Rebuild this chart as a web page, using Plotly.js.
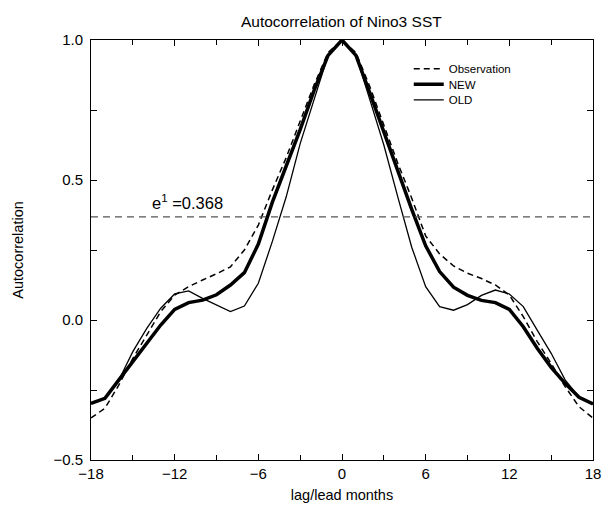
<!DOCTYPE html>
<html>
<head>
<meta charset="utf-8">
<script src="https://cdn.plot.ly/plotly-3.0.1.min.js"></script>
<style>html,body{margin:0;padding:0;background:#fff;}#chart{width:602px;height:510px;}</style>
</head>
<body>
<div id="chart"></div>
<script>
// lag/lead months
const lags = [-18,-17,-16,-15,-14,-13,-12,-11,-10,-9,-8,-7,-6,-5,-4,-3,-2,-1,0,1,2,3,4,5,6,7,8,9,10,11,12,13,14,15,16,17,18];
// Observation
const obs = [-0.35,-0.315,-0.232,-0.137,-0.054,0.03,0.089,0.119,0.143,0.165,0.19,0.25,0.339,0.464,0.58,0.71,0.84,0.955,
  1.0,0.955,0.833,0.696,0.56,0.435,0.30,0.236,0.193,0.167,0.148,0.125,0.089,0.012,-0.077,-0.155,-0.238,-0.31,-0.35];
// NEW model
const newModel = [-0.298,-0.28,-0.214,-0.149,-0.083,-0.018,0.038,0.062,0.071,0.09,0.125,0.169,0.271,0.42,0.55,0.68,0.82,0.945,
  1.0,0.945,0.81,0.67,0.535,0.395,0.265,0.173,0.117,0.088,0.070,0.062,0.038,-0.024,-0.101,-0.169,-0.226,-0.276,-0.30];
// OLD model
const oldModel = [-0.30,-0.28,-0.214,-0.113,-0.03,0.042,0.093,0.104,0.077,0.054,0.03,0.05,0.131,0.28,0.44,0.63,0.79,0.945,
  1.0,0.945,0.786,0.625,0.44,0.26,0.119,0.048,0.035,0.055,0.088,0.107,0.093,0.048,-0.036,-0.119,-0.214,-0.276,-0.30];
const eFold = 0.368;
const xTicks = [-18,-12,-6,0,6,12,18];
const xTickText = ['\u221218','\u221212','\u22126','0','6','12','18'];
const yTicks = [-0.5,0,0.5,1.0];
const yTickText = ['\u22120.5','0.0','0.5','1.0'];

const font = 'Liberation Sans, Arial, Helvetica, sans-serif';

const traces = [
  {x: lags, y: obs, name: 'Observation', mode: 'lines', legend: 'legend', line: {color: '#000', width: 1.5, dash: '6px,4px'}},
  {x: lags, y: newModel, name: 'NEW', mode: 'lines', legend: 'legend2', line: {color: '#000', width: 3.5}},
  {x: lags, y: oldModel, name: 'OLD', mode: 'lines', legend: 'legend3', line: {color: '#000', width: 1.3}}
];

function leg(y) {
  return {x: 0.633, y: y, xanchor: 'left', yanchor: 'top', bgcolor: 'rgba(0,0,0,0)', borderwidth: 0,
    font: {family: font, size: 11.5, color: '#000'}, itemwidth: 30};
}

const layout = {
  width: 602, height: 510,
  margin: {l: 91, r: 9, t: 40, b: 50},
  paper_bgcolor: '#fff', plot_bgcolor: '#fff',
  font: {family: font, size: 14, color: '#000'},
  title: {text: 'Autocorrelation of Nino3 SST', font: {family: font, size: 15.5, color: '#000'}, x: 0.567, xanchor: 'center', y: 0.957, yanchor: 'middle'},
  xaxis: {
    range: [-18, 18], tickvals: xTicks, ticktext: xTickText,
    ticks: 'inside', ticklen: 6, tickwidth: 1, tickcolor: '#000',
    minor: {dtick: 3, tick0: 0, ticks: 'inside', ticklen: 5, tickwidth: 1, tickcolor: '#000'},
    showline: true, linecolor: '#000', linewidth: 1, mirror: 'allticks',
    showgrid: false, zeroline: false,
    tickfont: {family: font, size: 15, color: '#000'},
    title: {text: 'lag/lead months', font: {family: font, size: 14.5, color: '#000'}, standoff: 8}
  },
  yaxis: {
    range: [-0.5, 1.0], tickvals: yTicks, ticktext: yTickText,
    ticks: 'inside', ticklen: 6, tickwidth: 1, tickcolor: '#000',
    minor: {dtick: 0.25, tick0: 0, ticks: 'inside', ticklen: 6, tickwidth: 1, tickcolor: '#000'},
    showline: true, linecolor: '#000', linewidth: 1, mirror: 'allticks',
    showgrid: false, zeroline: false,
    tickfont: {family: font, size: 15, color: '#000'},
    ticklabelstandoff: 4,
    title: {text: 'Autocorrelation', font: {family: font, size: 14.5, color: '#000'}, standoff: 26}
  },
  showlegend: true,
  legend: leg(0.966),
  legend2: leg(0.929),
  legend3: leg(0.892),
  shapes: [
    {type: 'line', xref: 'paper', x0: 0, x1: 1, yref: 'y', y0: eFold, y1: eFold,
     line: {color: '#555', width: 1.2, dash: '7px,5px'}}
  ],
  annotations: [
    {x: -11.1, y: eFold, xref: 'x', yref: 'y', yanchor: 'bottom', yshift: 3, showarrow: false,
     text: 'e<sup>1</sup> =0.368', font: {family: font, size: 16.5, color: '#000'}}
  ]
};

Plotly.newPlot('chart', traces, layout, {displayModeBar: false, staticPlot: true});
</script>
</body>
</html>
